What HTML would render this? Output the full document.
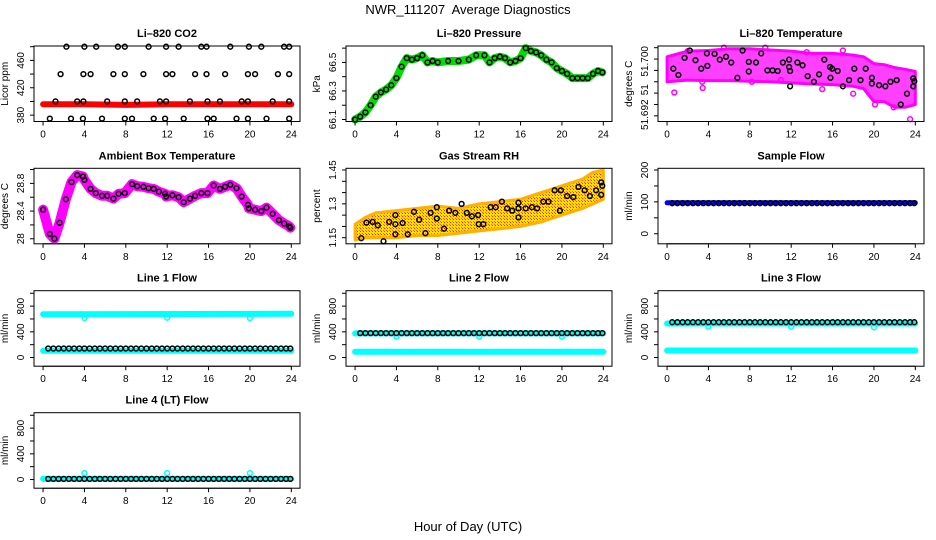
<!DOCTYPE html>
<html><head><meta charset="utf-8">
<style>
html,body{margin:0;padding:0;background:#fff;}
svg{display:block;font-family:"Liberation Sans",Arial,sans-serif;}
</style></head>
<body>
<svg id="chart" width="936" height="540" viewBox="0 0 936 540" xmlns="http://www.w3.org/2000/svg">
<defs>
<pattern id="rhpat" width="3" height="3" patternUnits="userSpaceOnUse">
<rect width="3" height="3" fill="#ffe000"/><rect width="1" height="1" fill="#ff2000"/><rect x="2" y="2" width="1" height="1" fill="#ff6000"/>
</pattern>
</defs>
<text x="468" y="14" font-size="13" text-anchor="middle" style="white-space:pre">NWR_111207&#160; Average Diagnostics</text>
<text x="468" y="531" font-size="13" text-anchor="middle">Hour of Day (UTC)</text>
</svg>
<script>
// ---------- data ----------
const xTicks = [0,4,8,12,16,20,24];
const tHalf = [0.5,1,1.5,2,2.5,3,3.5,4,4.5,5,5.5,6,6.5,7,7.5,8,8.5,9,9.5,10,10.5,11,11.5,12,12.5,13,13.5,14,14.5,15,15.5,16,16.5,17,17.5,18,18.5,19,19.5,20,20.5,21,21.5,22,22.5,23,23.5,23.9];

// CO2
const co2BandT = [0,4,8,12,16,20,24];
const co2BandV = [396,396,395,396,396,396,396];
const co2T = [2.26,4.0,5.14,7.24,7.9,10.2,11.9,13.1,15.3,15.8,18.1,19.9,21.1,23.3,23.8, 1.7,3.9,4.6,6.8,7.9,9.7,11.9,12.5,14.7,15.8,17.6,19.8,20.5,22.7,23.8, 1.2,3.3,3.9,6.2,7.9,9.1,11.3,11.9,14.2,15.9,17.1,19.2,19.8,22.2,23.8, 0.65,2.7,3.85,5.7,7.9,8.6,10.7,11.8,13.6,15.9,16.5,18.7,19.8,21.6,23.8];
const co2V = [480,480,480,480,480,480,480,480,480,480,480,480,480,480,480, 440,440,440,440,440,440,440,440,440,440,440,440,440,440,440, 400,400,400,400,400,400,400,400,400,400,400,400,400,400,400, 375,375,375,375,375,375,375,375,375,375,375,375,375,375,375];
const co2Ticks = [380,400,420,440,460,480];
const co2Labels = [380,420,460];

// Pressure
const presT = [0,0.5,1,1.5,2,2.5,3,3.5,4,4.5,5,5.5,6,6.5,7,7.5,8,9,10,11,11.7,12.5,13,13.5,14,14.5,15,15.5,16,16.5,17,17.5,18,18.5,19,19.5,20,20.5,21,21.5,22,22.5,23,23.5,23.9];
const presV = [66.1,66.12,66.15,66.2,66.26,66.29,66.31,66.34,66.39,66.47,66.53,66.52,66.53,66.55,66.5,66.51,66.5,66.51,66.51,66.52,66.55,66.55,66.5,66.53,66.54,66.53,66.5,66.51,66.53,66.6,66.58,66.57,66.55,66.52,66.5,66.46,66.44,66.42,66.39,66.39,66.39,66.39,66.42,66.44,66.43];
const presTicks = [66.1,66.2,66.3,66.4,66.5,66.6];
const presLabels = [66.1,66.3,66.5];

// Li-820 temperature
const ltBandT = [0,2,4,6,8,10,12,14,16,18,19,20,21,22,23,24];
const ltUpper = [51.7004,51.7014,51.7015,51.7018,51.7018,51.7016,51.7014,51.7010,51.7010,51.7007,51.7004,51.6992,51.6990,51.6985,51.6982,51.6978];
const ltLower = [51.6960,51.6963,51.6962,51.6962,51.6961,51.6960,51.6958,51.6956,51.6955,51.6952,51.6948,51.6925,51.6925,51.6915,51.6915,51.6920];
const ltOutT = [0.7,3.45,3.4,23.5,21.9,20.1,18,15,8.2,11,5.5,13.5,17,9.5,2];
const ltOutV = [51.6941,51.6949,51.6960,51.6894,51.6915,51.6920,51.6939,51.6947,51.6960,51.6963,51.7020,51.7012,51.7015,51.7020,51.7014];
const ltT = [0.6,1.1,1.7,2.2,2.75,3.3,3.85,3.9,4.6,5.1,5.7,6.2,6.8,7.3,7.9,7.9,8.6,9.1,9.7,10.2,10.7,11.2,11.8,11.8,11.9,11.9,12.6,13.1,13.6,14.2,14.7,15.2,15.75,15.8,15.97,16.5,17.0,17.6,18.1,18.7,19.2,19.8,19.8,20.5,21.1,21.6,22.2,22.6,23.2,23.8,23.8,23.9];
const ltV = [51.6983,51.6972,51.7002,51.7015,51.6998,51.6983,51.7010,51.6988,51.7009,51.6999,51.7004,51.6994,51.6967,51.7015,51.6995,51.6978,51.6994,51.7010,51.6980,51.6980,51.6979,51.6994,51.6999,51.6986,51.6979,51.6952,51.6994,51.6989,51.6970,51.6960,51.6973,51.6999,51.6986,51.6967,51.6983,51.6979,51.6952,51.6963,51.6983,51.6963,51.6983,51.6967,51.6957,51.6954,51.6952,51.6960,51.6963,51.6920,51.6939,51.6966,51.6952,51.6961];
const ltTicks = [51.690,51.692,51.694,51.696,51.698,51.700,51.702];
const ltLabelPos = [51.6902,51.6946,51.6996];
const ltLabelText = ["51.692","51","51.700"];

// Ambient box temperature
const ambT = [0,0.65,1.1,1.6,2.2,2.75,3.3,3.85,4.0,4.6,5.1,5.7,6.2,6.8,7.3,7.9,8.6,9.1,9.7,10.2,10.7,11.2,11.8,11.9,12.5,13.1,13.6,14.2,14.7,15.3,15.9,16.5,17.1,17.6,18.1,18.7,19.2,19.8,19.9,20.5,21.1,21.6,22.2,22.8,23.3,23.8,23.9];
const ambV = [28.42,28.07,28.0,28.23,28.57,28.82,28.92,28.9,28.85,28.72,28.66,28.62,28.62,28.58,28.65,28.66,28.79,28.76,28.75,28.73,28.72,28.68,28.65,28.61,28.63,28.6,28.53,28.58,28.62,28.66,28.66,28.77,28.72,28.75,28.78,28.73,28.61,28.49,28.44,28.42,28.4,28.45,28.36,28.27,28.22,28.18,28.16];
const ambTicks = [28.0,28.2,28.4,28.6,28.8,29.0];
const ambLabels = [28.0,28.4,28.8];

// Gas stream RH
const rhBandT = [0,1,2,4,6,8,10,12,14,16,18,20,22,23,24];
const rhUpper = [1.21,1.24,1.26,1.27,1.28,1.29,1.28,1.30,1.31,1.32,1.35,1.38,1.41,1.44,1.45];
const rhLower = [1.14,1.15,1.15,1.15,1.16,1.16,1.17,1.18,1.19,1.20,1.22,1.25,1.28,1.30,1.32];
const rhT = [0.6,1.1,1.7,2.2,2.75,3.3,3.9,3.9,3.9,4.6,5.1,5.7,6.2,6.8,7.3,7.9,7.9,8.6,9.1,9.7,10.3,10.8,11.3,11.9,11.95,12.4,13.1,13.6,14.2,14.7,15.2,15.8,15.8,15.8,16.5,17.1,17.6,18.2,18.7,19.8,19.3,19.9,20.5,21.1,21.6,22.2,22.7,23.3,23.8,23.8,23.9];
const rhV = [1.148,1.217,1.22,1.205,1.134,1.22,1.25,1.21,1.165,1.215,1.165,1.265,1.23,1.17,1.26,1.285,1.235,1.19,1.27,1.26,1.30,1.26,1.245,1.25,1.21,1.21,1.285,1.285,1.31,1.28,1.27,1.305,1.28,1.24,1.28,1.285,1.28,1.31,1.31,1.27,1.36,1.36,1.335,1.33,1.375,1.36,1.335,1.36,1.34,1.395,1.38];
const rhTicks = [1.15,1.20,1.25,1.30,1.35,1.40,1.45];
const rhLabels = [1.15,1.30,1.45];

// Sample flow
const sfBandT = [0,24];
const sfBandV = [97,97];
const sfV = [96,96,96,96,96,96,96,96,96,96,96,96,96,96,96,96,96,96,96,96,96,96,96,96,96,96,96,96,96,96,96,96,96,96,96,96,96,96,96,96,96,96,96,96,96,96,96,96];
const sfTicks = [0,50,100,150,200];
const sfLabels = [0,100,200];

// Line flows
const flowTicks = [0,200,400,600,800,1000];
const flowLabels = [0,400,800];
const bandT = [0,24];
const dipT = [4,12,20];
const l1Upper = [675,680];
const l1Lower = [105,105];
const l1Dip = [615,620,615];
const l1Black = [140,140,140,140,140,140,140,140,140,140,140,140,140,140,140,140,140,140,140,140,140,140,140,140,140,140,140,140,140,140,140,140,140,140,140,140,140,140,140,140,140,140,140,140,140,140,140,140];
const l2Upper = [375,375];
const l2Lower = [90,90];
const l2Dip = [325,325,325];
const l2Black = [380,380,380,380,380,380,380,380,380,380,380,380,380,380,380,380,380,380,380,380,380,380,380,380,380,380,380,380,380,380,380,380,380,380,380,380,380,380,380,380,380,380,380,380,380,380,380,380];
const l3Upper = [530,530];
const l3Lower = [110,110];
const l3Dip = [480,480,470];
const l3Black = [550,550,550,550,550,550,550,550,550,550,550,550,550,550,550,550,550,550,550,550,550,550,550,550,550,550,550,550,550,550,550,550,550,550,550,550,550,550,550,550,550,550,550,550,550,550,550,550];
const l4Band = [10,10];
const l4Dip = [100,100,100];
const l4Black = [10,10,10,10,10,10,10,10,10,10,10,10,10,10,10,10,10,10,10,10,10,10,10,10,10,10,10,10,10,10,10,10,10,10,10,10,10,10,10,10,10,10,10,10,10,10,10,10];

// ---------- drawing ----------
const svg = document.getElementById('chart');
const NS = 'http://www.w3.org/2000/svg';
const colLeft = [34,346,658], colW = 266;
const rowTop = [46,168.3,290.7,412.7], rowH = 75.5;
const XD = [-0.875,24.84];
function mk(tag, attrs, parent){const e=document.createElementNS(NS,tag);for(const k in attrs)e.setAttribute(k,attrs[k]);(parent||svg).appendChild(e);return e;}

function panel(name, title, ylab, col, row, yd, ticks, labels, labelText){
  const g = mk('g',{});
  
  
  const L=colLeft[col], T=rowTop[row], R=L+colW, B=T+rowH;
  const sx=v=>L+(v-XD[0])/(XD[1]-XD[0])*colW;
  const sy=v=>B-(v-yd[0])/(yd[1]-yd[0])*rowH;
  const t = mk('text',{x:(L+R)/2,y:T-9,'font-size':11,'font-weight':'bold','text-anchor':'middle'},g);
  t.textContent=title;
  
  
  const yl = mk('text',{x:0,y:0,'font-size':10,'text-anchor':'middle',transform:`translate(${L-26},${(T+B)/2}) rotate(-90)`},g);
  yl.textContent=ylab;
  
  
  const plot = mk('g',{},g);
  
  
  const xa = mk('g',{stroke:'#000','stroke-width':1},g);
  
  
  mk('line',{x1:sx(xTicks[0]),x2:sx(xTicks[xTicks.length-1]),y1:B,y2:B},xa);
  xTicks.forEach(v=>{
    mk('line',{x1:sx(v),x2:sx(v),y1:B,y2:B+4},xa);
    const tx=mk('text',{x:sx(v),y:B+16,'font-size':10,'text-anchor':'middle',stroke:'none'},g);
    tx.textContent=v;
    
    
  });
  const ya = mk('g',{stroke:'#000','stroke-width':1},g);
  
  
  mk('line',{x1:L,x2:L,y1:sy(ticks[0]),y2:sy(ticks[ticks.length-1])},ya);
  ticks.forEach(v=>mk('line',{x1:L-4,x2:L,y1:sy(v),y2:sy(v)},ya));
  labels.forEach((v,i)=>{
    const tx=mk('text',{x:0,y:0,'font-size':10,'text-anchor':'middle',transform:`translate(${L-10},${sy(v)}) rotate(-90)`},g);
    tx.textContent = labelText ? labelText[i] : (Number.isInteger(v)?v:(v.toFixed(String(v).split('.')[1].length<2?1:2)));
    
    
  });
  mk('rect',{x:L,y:T,width:colW,height:rowH,fill:'none',stroke:'#000','stroke-width':1},g);
  return {plot,sx,sy,L,T};
}
function band(p, ts, vs, color, w){
  const pts = ts.map((t,i)=>p.sx(t).toFixed(1)+','+p.sy(vs[i]).toFixed(1)).join(' ');
  const e = mk('polyline',{points:pts,fill:'none',stroke:color,'stroke-width':w,'stroke-linecap':'round','stroke-linejoin':'round'},p.plot);
  
  
}
function area(p, ts, up, lo, fill, op){
  const a = ts.map((t,i)=>p.sx(t).toFixed(1)+','+p.sy(up[i]).toFixed(1));
  const b = ts.map((t,i)=>p.sx(t).toFixed(1)+','+p.sy(lo[i]).toFixed(1)).reverse();
  const e = mk('polygon',{points:a.concat(b).join(' '),fill:fill,'fill-opacity':op,stroke:fill==='url(#rhpat)'?'#ffb000':'#ff00ff','stroke-width':3,'stroke-linejoin':'round'},p.plot);
  
  
}
function pts(p, ts, vs, color, r, sw){
  const g = mk('g',{fill:'none',stroke:color,'stroke-width':sw||1.5},p.plot);
  
  
  ts.forEach((t,i)=>{
    const c = mk('circle',{cx:p.sx(t).toFixed(1),cy:p.sy(vs[i]).toFixed(1),r:r||2.4},g);
    
    
  });
}

let p = panel('li820-co2-panel','Li\u2013820 CO2','Licor ppm',0,0,[370.7,481],co2Ticks,co2Labels);
band(p,co2BandT,co2BandV,'#ff0000',6);
pts(p,co2T,co2V,'#000');
p = panel('li820-pressure-panel','Li\u2013820 Pressure','kPa',1,0,[66.086,66.615],presTicks,presLabels);
band(p,presT,presV,'#00dd00',8);
pts(p,presT,presV,'#000');
p = panel('li820-temperature-panel','Li\u2013820 Temperature','degrees C',2,0,[51.689,51.7023],ltTicks,ltLabelPos,ltLabelText);
area(p,ltBandT,ltUpper,ltLower,'#ff00ff',0.75);
pts(p,ltOutT,ltOutV,'#ff00ff');
pts(p,ltT,ltV,'#000');
p = panel('ambient-box-temperature-panel','Ambient Box Temperature','degrees C',0,1,[27.927,29.018],ambTicks,ambLabels);
band(p,ambT,ambV,'#ff00ff',10);
pts(p,ambT,ambV,'#000');
p = panel('gas-stream-rh-panel','Gas Stream RH','percent',1,1,[1.123,1.4576],rhTicks,rhLabels);
area(p,rhBandT,rhUpper,rhLower,'url(#rhpat)',1);
pts(p,rhT,rhV,'#000');
p = panel('sample-flow-panel','Sample Flow','ml/min',2,1,[-31.6,205.4],sfTicks,sfLabels);
band(p,sfBandT,sfBandV,'#0000ff',5);
pts(p,tHalf,sfV,'#000');
p = panel('line1-flow-panel','Line 1 Flow','ml/min',0,2,[-135,1040],flowTicks,flowLabels);
band(p,bandT,l1Upper,'#00ffff',6);
band(p,bandT,l1Lower,'#00ffff',6);
pts(p,dipT,l1Dip,'#00ffff');
pts(p,tHalf,l1Black,'#000');
p = panel('line2-flow-panel','Line 2 Flow','ml/min',1,2,[-135,1040],flowTicks,flowLabels);
band(p,bandT,l2Upper,'#00ffff',6);
band(p,bandT,l2Lower,'#00ffff',6);
pts(p,dipT,l2Dip,'#00ffff');
pts(p,tHalf,l2Black,'#000');
p = panel('line3-flow-panel','Line 3 Flow','ml/min',2,2,[-135,1040],flowTicks,flowLabels);
band(p,bandT,l3Upper,'#00ffff',6);
band(p,bandT,l3Lower,'#00ffff',6);
pts(p,dipT,l3Dip,'#00ffff');
pts(p,tHalf,l3Black,'#000');
p = panel('line4-flow-panel','Line 4 (LT) Flow','ml/min',0,3,[-135,1040],flowTicks,flowLabels);
band(p,bandT,l4Band,'#00ffff',6);
pts(p,dipT,l4Dip,'#00ffff');
pts(p,tHalf,l4Black,'#000');
</script>
</body></html>
